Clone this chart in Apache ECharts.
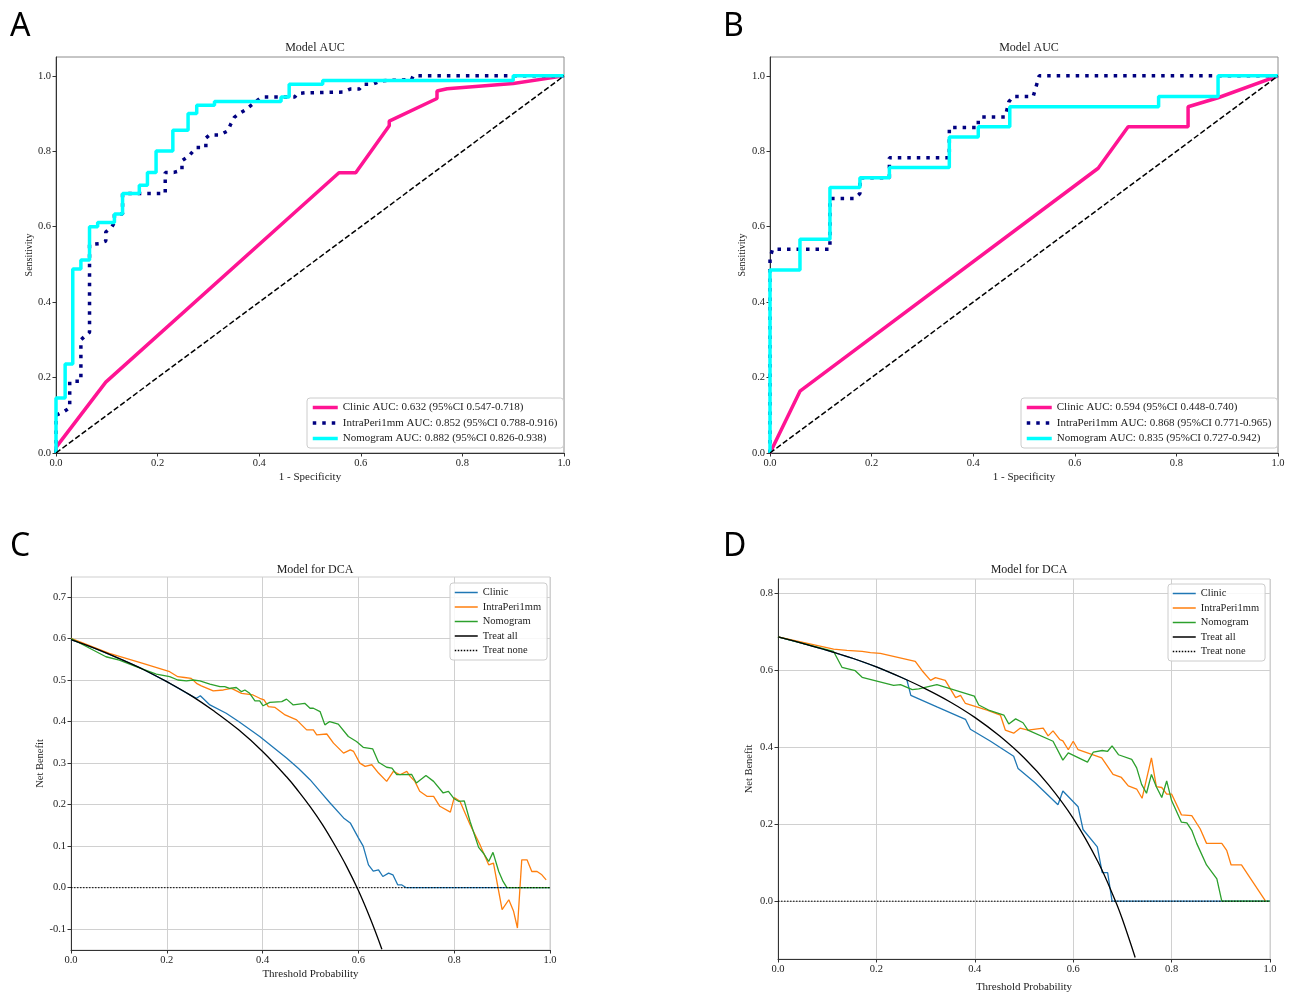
<!DOCTYPE html>
<html>
<head>
<meta charset="utf-8">
<title>Model AUC / DCA</title>
<script src="https://cdn.jsdelivr.net/npm/echarts@6/dist/echarts.min.js"></script>
<style>
  html, body { margin: 0; padding: 0; background: #fff; }
  #chart { width: 1291px; height: 994px; }
</style>
</head>
<body>
<div id="chart"></div>
<script>
// ROC curves, panel A (training)  [1 - specificity, sensitivity]
const rocA_clinic = [[0,0],[0,0.015],[0.098,0.188],[0.557,0.743],[0.59,0.743],[0.656,0.868],[0.656,0.88],[0.75,0.94],[0.75,0.96],[0.77,0.966],[0.9,0.98],[1,1]]
const rocA_intra = [[0,0],[0,0.1],[0.016,0.11],[0.027,0.12],[0.027,0.19],[0.049,0.19],[0.049,0.30],[0.057,0.31],[0.066,0.32],[0.066,0.553],[0.085,0.555],[0.098,0.562],[0.098,0.586],[0.11,0.6],[0.115,0.611],[0.115,0.634],[0.131,0.634],[0.131,0.688],[0.215,0.688],[0.215,0.744],[0.232,0.744],[0.248,0.75],[0.248,0.775],[0.262,0.788],[0.276,0.81],[0.295,0.81],[0.295,0.835],[0.302,0.843],[0.322,0.843],[0.338,0.854],[0.344,0.872],[0.351,0.89],[0.361,0.9],[0.372,0.909],[0.384,0.922],[0.405,0.944],[0.47,0.944],[0.475,0.953],[0.49,0.955],[0.565,0.957],[0.579,0.965],[0.597,0.965],[0.605,0.978],[0.624,0.978],[0.641,0.987],[0.70,0.99],[0.703,1],[1,1]]
const rocA_nomo = [[0,0],[0,0.146],[0.018,0.146],[0.018,0.236],[0.033,0.236],[0.033,0.488],[0.049,0.488],[0.049,0.512],[0.066,0.512],[0.066,0.6],[0.082,0.6],[0.082,0.611],[0.115,0.611],[0.115,0.634],[0.131,0.634],[0.131,0.688],[0.164,0.688],[0.164,0.71],[0.18,0.71],[0.18,0.744],[0.197,0.744],[0.197,0.801],[0.23,0.801],[0.23,0.856],[0.26,0.856],[0.26,0.9],[0.277,0.9],[0.277,0.922],[0.312,0.922],[0.312,0.932],[0.443,0.932],[0.443,0.944],[0.459,0.944],[0.459,0.978],[0.525,0.978],[0.525,0.988],[0.9,0.988],[0.9,1],[1,1]]

// ROC curves, panel B (validation)
const rocB_clinic = [[0,0],[0.059,0.164],[0.646,0.755],[0.705,0.865],[0.823,0.865],[0.823,0.918],[0.882,0.942],[1,1]]
const rocB_intra = [[0,0],[0,0.517],[0.005,0.54],[0.118,0.54],[0.118,0.675],[0.167,0.675],[0.177,0.688],[0.177,0.73],[0.235,0.73],[0.235,0.783],[0.353,0.783],[0.353,0.863],[0.41,0.863],[0.41,0.882],[0.415,0.891],[0.463,0.891],[0.47,0.931],[0.478,0.945],[0.518,0.945],[0.53,1],[1,1]]
const rocB_nomo = [[0,0],[0,0.485],[0.059,0.485],[0.059,0.567],[0.118,0.567],[0.118,0.704],[0.177,0.704],[0.177,0.73],[0.235,0.73],[0.235,0.757],[0.353,0.757],[0.353,0.838],[0.41,0.838],[0.41,0.865],[0.472,0.865],[0.472,0.918],[0.765,0.918],[0.765,0.945],[0.882,0.945],[0.882,1],[1,1]]

const chanceLine = [[0,0],[1,1]]

const legendA = ['Clinic AUC: 0.632 (95%CI 0.547-0.718)', 'IntraPeri1mm AUC: 0.852 (95%CI 0.788-0.916)', 'Nomogram AUC: 0.882 (95%CI 0.826-0.938)']
const legendB = ['Clinic AUC: 0.594 (95%CI 0.448-0.740)', 'IntraPeri1mm AUC: 0.868 (95%CI 0.771-0.965)', 'Nomogram AUC: 0.835 (95%CI 0.727-0.942)']

// decision curves, panel C  [threshold probability, net benefit]
const dcaC_clinic = [[0,0.597],[0.05,0.576],[0.1,0.552],[0.15,0.526],[0.2,0.496],[0.25,0.463],[0.262,0.456],[0.27,0.462],[0.29,0.44],[0.324,0.42],[0.35,0.40],[0.394,0.364],[0.42,0.34],[0.45,0.312],[0.475,0.287],[0.499,0.26],[0.52,0.232],[0.54,0.205],[0.569,0.168],[0.583,0.156],[0.6,0.12],[0.61,0.10],[0.621,0.055],[0.631,0.04],[0.642,0.043],[0.651,0.027],[0.663,0.035],[0.672,0.031],[0.682,0.007],[0.69,0.007],[0.70,0],[1,0]]
const dcaC_intra = [[0,0.6],[0.08,0.564],[0.15,0.54],[0.206,0.52],[0.223,0.508],[0.237,0.506],[0.251,0.504],[0.262,0.492],[0.272,0.486],[0.297,0.474],[0.318,0.476],[0.335,0.48],[0.356,0.468],[0.38,0.464],[0.394,0.456],[0.403,0.452],[0.412,0.436],[0.426,0.434],[0.447,0.416],[0.471,0.404],[0.492,0.38],[0.506,0.38],[0.513,0.368],[0.534,0.37],[0.548,0.348],[0.569,0.324],[0.583,0.332],[0.59,0.328],[0.603,0.30],[0.614,0.292],[0.628,0.296],[0.642,0.276],[0.659,0.256],[0.673,0.28],[0.687,0.272],[0.701,0.28],[0.708,0.268],[0.718,0.256],[0.728,0.232],[0.743,0.22],[0.757,0.22],[0.77,0.196],[0.792,0.182],[0.8,0.217],[0.812,0.208],[0.833,0.152],[0.854,0.103],[0.872,0.055],[0.882,0.059],[0.9,-0.053],[0.914,-0.029],[0.924,-0.057],[0.932,-0.097],[0.941,0.067],[0.952,0.067],[0.962,0.039],[0.973,0.039],[0.983,0.031],[0.992,0.019]]
const dcaC_nomo = [[0,0.6],[0.073,0.556],[0.101,0.548],[0.136,0.532],[0.178,0.514],[0.206,0.508],[0.223,0.5],[0.241,0.498],[0.255,0.5],[0.269,0.498],[0.29,0.49],[0.311,0.484],[0.321,0.484],[0.331,0.48],[0.345,0.482],[0.356,0.472],[0.363,0.476],[0.373,0.468],[0.384,0.45],[0.394,0.45],[0.401,0.438],[0.415,0.446],[0.44,0.448],[0.45,0.454],[0.464,0.44],[0.488,0.444],[0.499,0.432],[0.506,0.432],[0.52,0.424],[0.53,0.392],[0.54,0.4],[0.558,0.394],[0.579,0.364],[0.596,0.352],[0.61,0.338],[0.63,0.334],[0.642,0.302],[0.659,0.29],[0.67,0.288],[0.68,0.272],[0.711,0.273],[0.721,0.252],[0.741,0.27],[0.757,0.256],[0.777,0.228],[0.788,0.232],[0.8,0.214],[0.809,0.208],[0.821,0.209],[0.833,0.16],[0.851,0.097],[0.861,0.083],[0.872,0.063],[0.881,0.085],[0.893,0.039],[0.902,0.015],[0.91,0],[1,0]]
const dcaC_all = [[0,0.597],[0.05,0.576],[0.1,0.552],[0.15,0.526],[0.2,0.496],[0.25,0.463],[0.3,0.424],[0.35,0.38],[0.4,0.328],[0.45,0.267],[0.475,0.232],[0.5,0.194],[0.525,0.152],[0.55,0.104],[0.575,0.052],[0.6,-0.007],[0.625,-0.075],[0.649,-0.148]]

// decision curves, panel D
const dcaD_clinic = [[0,0.686],[0.05,0.669],[0.1,0.651],[0.15,0.631],[0.2,0.608],[0.25,0.581],[0.262,0.574],[0.27,0.534],[0.323,0.504],[0.381,0.472],[0.391,0.446],[0.432,0.415],[0.479,0.376],[0.488,0.344],[0.522,0.308],[0.569,0.25],[0.579,0.286],[0.61,0.245],[0.62,0.186],[0.649,0.141],[0.659,0.074],[0.67,0.074],[0.679,0],[1,0]]
const dcaD_intra = [[0,0.686],[0.113,0.654],[0.14,0.651],[0.171,0.648],[0.188,0.645],[0.208,0.643],[0.279,0.622],[0.293,0.598],[0.31,0.573],[0.32,0.58],[0.34,0.573],[0.361,0.528],[0.371,0.534],[0.381,0.513],[0.425,0.496],[0.452,0.483],[0.462,0.444],[0.479,0.436],[0.492,0.449],[0.508,0.444],[0.539,0.449],[0.549,0.429],[0.559,0.442],[0.573,0.419],[0.579,0.416],[0.59,0.393],[0.6,0.415],[0.61,0.393],[0.658,0.372],[0.681,0.329],[0.698,0.321],[0.712,0.299],[0.729,0.291],[0.74,0.267],[0.759,0.372],[0.769,0.297],[0.78,0.295],[0.79,0.278],[0.8,0.278],[0.82,0.224],[0.841,0.222],[0.858,0.188],[0.871,0.15],[0.902,0.15],[0.912,0.132],[0.921,0.094],[0.942,0.094],[0.991,0]]
const dcaD_nomo = [[0,0.686],[0.113,0.648],[0.13,0.607],[0.157,0.598],[0.171,0.581],[0.235,0.56],[0.249,0.562],[0.273,0.549],[0.286,0.551],[0.323,0.562],[0.399,0.532],[0.408,0.509],[0.428,0.496],[0.459,0.483],[0.469,0.46],[0.483,0.473],[0.498,0.463],[0.508,0.444],[0.559,0.415],[0.579,0.366],[0.59,0.385],[0.629,0.361],[0.641,0.387],[0.659,0.391],[0.67,0.389],[0.679,0.403],[0.692,0.38],[0.719,0.368],[0.729,0.346],[0.739,0.303],[0.749,0.28],[0.759,0.329],[0.769,0.297],[0.78,0.269],[0.79,0.312],[0.8,0.261],[0.82,0.205],[0.831,0.203],[0.841,0.184],[0.851,0.15],[0.871,0.094],[0.892,0.058],[0.902,0],[1,0]]
const dcaD_all = [[0,0.686],[0.05,0.669],[0.1,0.651],[0.15,0.631],[0.2,0.608],[0.25,0.581],[0.3,0.551],[0.35,0.517],[0.4,0.477],[0.45,0.429],[0.5,0.372],[0.55,0.302],[0.6,0.215],[0.65,0.103],[0.686,0],[0.7,-0.047],[0.726,-0.146]]

const treatNone = [[0,0],[1,0]]
const dcaNames = ['Clinic', 'IntraPeri1mm', 'Nomogram', 'Treat all', 'Treat none']

const serif = 'Liberation Serif'
const rocColors = ['#ff1493', '#000080', '#00ffff']
const dcaColors = ['#1f77b4', '#ff7f0e', '#2ca02c', '#000000', '#000000']

const chart = echarts.init(document.getElementById('chart'))

const grids = [
  { left: 56, top: 57, width: 508, height: 396, show: true, borderColor: '#8c8c8c', borderWidth: 1 },
  { left: 770, top: 57, width: 508, height: 396, show: true, borderColor: '#8c8c8c', borderWidth: 1 },
  { left: 71, top: 577, width: 479, height: 373, show: true, borderColor: '#cfcfcf', borderWidth: 1 },
  { left: 778, top: 579, width: 492, height: 384, show: true, borderColor: '#cfcfcf', borderWidth: 1 }
]

const fmt1 = v => v.toFixed(1)

function xAxisFor(i, name, gap, withGrid) {
  return {
    type: 'value', gridIndex: i, min: 0, max: 1, interval: 0.2,
    name: name, nameLocation: 'middle', nameGap: gap,
    nameTextStyle: { fontFamily: serif, fontSize: 11, color: '#222' },
    axisLine: { onZero: false, lineStyle: { color: '#333', width: 1 } },
    axisTick: { length: 3.5, lineStyle: { color: '#333' } },
    axisLabel: { fontFamily: serif, fontSize: 10.5, color: '#222', formatter: fmt1, margin: 5 },
    splitLine: { show: withGrid, lineStyle: { color: '#d0d0d0', width: 1 } }
  }
}

function rocYAxis(i, gap) {
  return {
    type: 'value', gridIndex: i, min: 0, max: 1.05, interval: 0.2,
    name: 'Sensitivity', nameLocation: 'middle', nameGap: gap,
    nameTextStyle: { fontFamily: serif, fontSize: 10, color: '#222' },
    axisLine: { onZero: false, lineStyle: { color: '#333', width: 1 } },
    axisTick: { length: 3.5, lineStyle: { color: '#333' } },
    axisLabel: { fontFamily: serif, fontSize: 10.5, color: '#222', formatter: fmt1, margin: 5, showMaxLabel: false },
    splitLine: { show: false }
  }
}

function dcaYAxis(i, min, max, splitNumber, gap) {
  return {
    type: 'value', gridIndex: i, min: min, max: max, splitNumber: splitNumber,
    name: 'Net Benefit', nameLocation: 'middle', nameGap: gap,
    nameTextStyle: { fontFamily: serif, fontSize: 10.5, color: '#222' },
    axisLine: { onZero: false, lineStyle: { color: '#333', width: 1 } },
    axisTick: { length: 3.5, lineStyle: { color: '#333' } },
    axisLabel: { fontFamily: serif, fontSize: 10.5, color: '#222', formatter: fmt1, margin: 5,
      showMinLabel: false, showMaxLabel: false },
    splitLine: { show: true, showMinLine: false, showMaxLine: false, lineStyle: { color: '#d0d0d0', width: 1 } }
  }
}

function rocSeries(i, names, clinic, intra, nomo) {
  return [
    { name: names[0], type: 'line', xAxisIndex: i, yAxisIndex: i, data: clinic, symbol: 'none',
      lineStyle: { color: rocColors[0], width: 3.5 }, itemStyle: { color: rocColors[0] } },
    { name: names[1], type: 'line', xAxisIndex: i, yAxisIndex: i, data: intra, symbol: 'none',
      lineStyle: { color: rocColors[1], width: 3.5, type: [3.5, 6] }, itemStyle: { color: rocColors[1] } },
    { name: names[2], type: 'line', xAxisIndex: i, yAxisIndex: i, data: nomo, symbol: 'none',
      lineStyle: { color: rocColors[2], width: 3.5 }, itemStyle: { color: rocColors[2] } },
    { type: 'line', xAxisIndex: i, yAxisIndex: i, data: chanceLine, symbol: 'none',
      lineStyle: { color: '#000', width: 1.5, type: [5.5, 2.5] } }
  ]
}

function dcaSeries(i, clinic, intra, nomo, all) {
  const sets = [clinic, intra, nomo, all, treatNone]
  return sets.map((d, k) => ({
    name: dcaNames[k], type: 'line', xAxisIndex: i, yAxisIndex: i, data: d, symbol: 'none',
    smooth: k === 3 ? 0.4 : false,
    lineStyle: { color: dcaColors[k], width: k === 4 ? 1 : 1.3, type: k === 4 ? [1.5, 1.5] : 'solid' },
    itemStyle: { color: dcaColors[k] }
  }))
}

function rocLegend(names, left) {
  return {
    data: names, orient: 'vertical', left: left, top: 398,
    itemWidth: 25, itemHeight: 10, itemGap: 4.5, padding: [4, 6, 4, 4],
    itemStyle: { opacity: 0 },
    lineStyle: { width: 3.5 },
    backgroundColor: 'rgba(255,255,255,0.85)', borderColor: '#cccccc', borderWidth: 1, borderRadius: 3,
    textStyle: { fontFamily: serif, fontSize: 11, color: '#222' }
  }
}

function dcaLegend(left, top) {
  return {
    data: dcaNames, orient: 'vertical', left: left, top: top,
    itemWidth: 23, itemHeight: 9, itemGap: 3.5, padding: [4, 6, 4, 4],
    itemStyle: { opacity: 0 },
    lineStyle: { width: 1.5 },
    backgroundColor: 'rgba(255,255,255,0.85)', borderColor: '#cccccc', borderWidth: 1, borderRadius: 3,
    textStyle: { fontFamily: serif, fontSize: 10.5, color: '#222' }
  }
}

function panelTitle(text, cx, top) {
  return { text: text, left: cx, top: top, textAlign: 'center',
    textStyle: { fontFamily: serif, fontSize: 12, fontWeight: 'normal', color: '#222' } }
}

function letter(text, left, top) {
  return { text: text, left: left, top: top,
    textStyle: { fontFamily: 'Noto Sans', fontSize: 32, fontWeight: 'normal', color: '#000' } }
}

chart.setOption({
  animation: false,
  backgroundColor: '#fff',
  title: [
    panelTitle('Model AUC', 310, 37),
    panelTitle('Model AUC', 1024, 37),
    panelTitle('Model for DCA', 310, 559),
    panelTitle('Model for DCA', 1024, 559),
    letter('A', 5, 6),
    letter('B', 718, 6),
    letter('C', 5, 526),
    letter('D', 718, 526)
  ],
  grid: grids,
  xAxis: [
    xAxisFor(0, '1 - Specificity', 19, false),
    xAxisFor(1, '1 - Specificity', 19, false),
    xAxisFor(2, 'Threshold Probability', 19, true),
    xAxisFor(3, 'Threshold Probability', 23, true)
  ],
  yAxis: [
    rocYAxis(0, 22),
    rocYAxis(1, 23),
    dcaYAxis(2, -0.15, 0.748, 9, 24),
    dcaYAxis(3, -0.15, 0.836, 5, 23)
  ],
  legend: [
    rocLegend(legendA, 307),
    rocLegend(legendB, 1021),
    dcaLegend(450, 583),
    dcaLegend(1168, 584)
  ],
  series: [
    ...rocSeries(0, legendA, rocA_clinic, rocA_intra, rocA_nomo),
    ...rocSeries(1, legendB, rocB_clinic, rocB_intra, rocB_nomo),
    ...dcaSeries(2, dcaC_clinic, dcaC_intra, dcaC_nomo, dcaC_all),
    ...dcaSeries(3, dcaD_clinic, dcaD_intra, dcaD_nomo, dcaD_all)
  ]
})
</script>
</body>
</html>
